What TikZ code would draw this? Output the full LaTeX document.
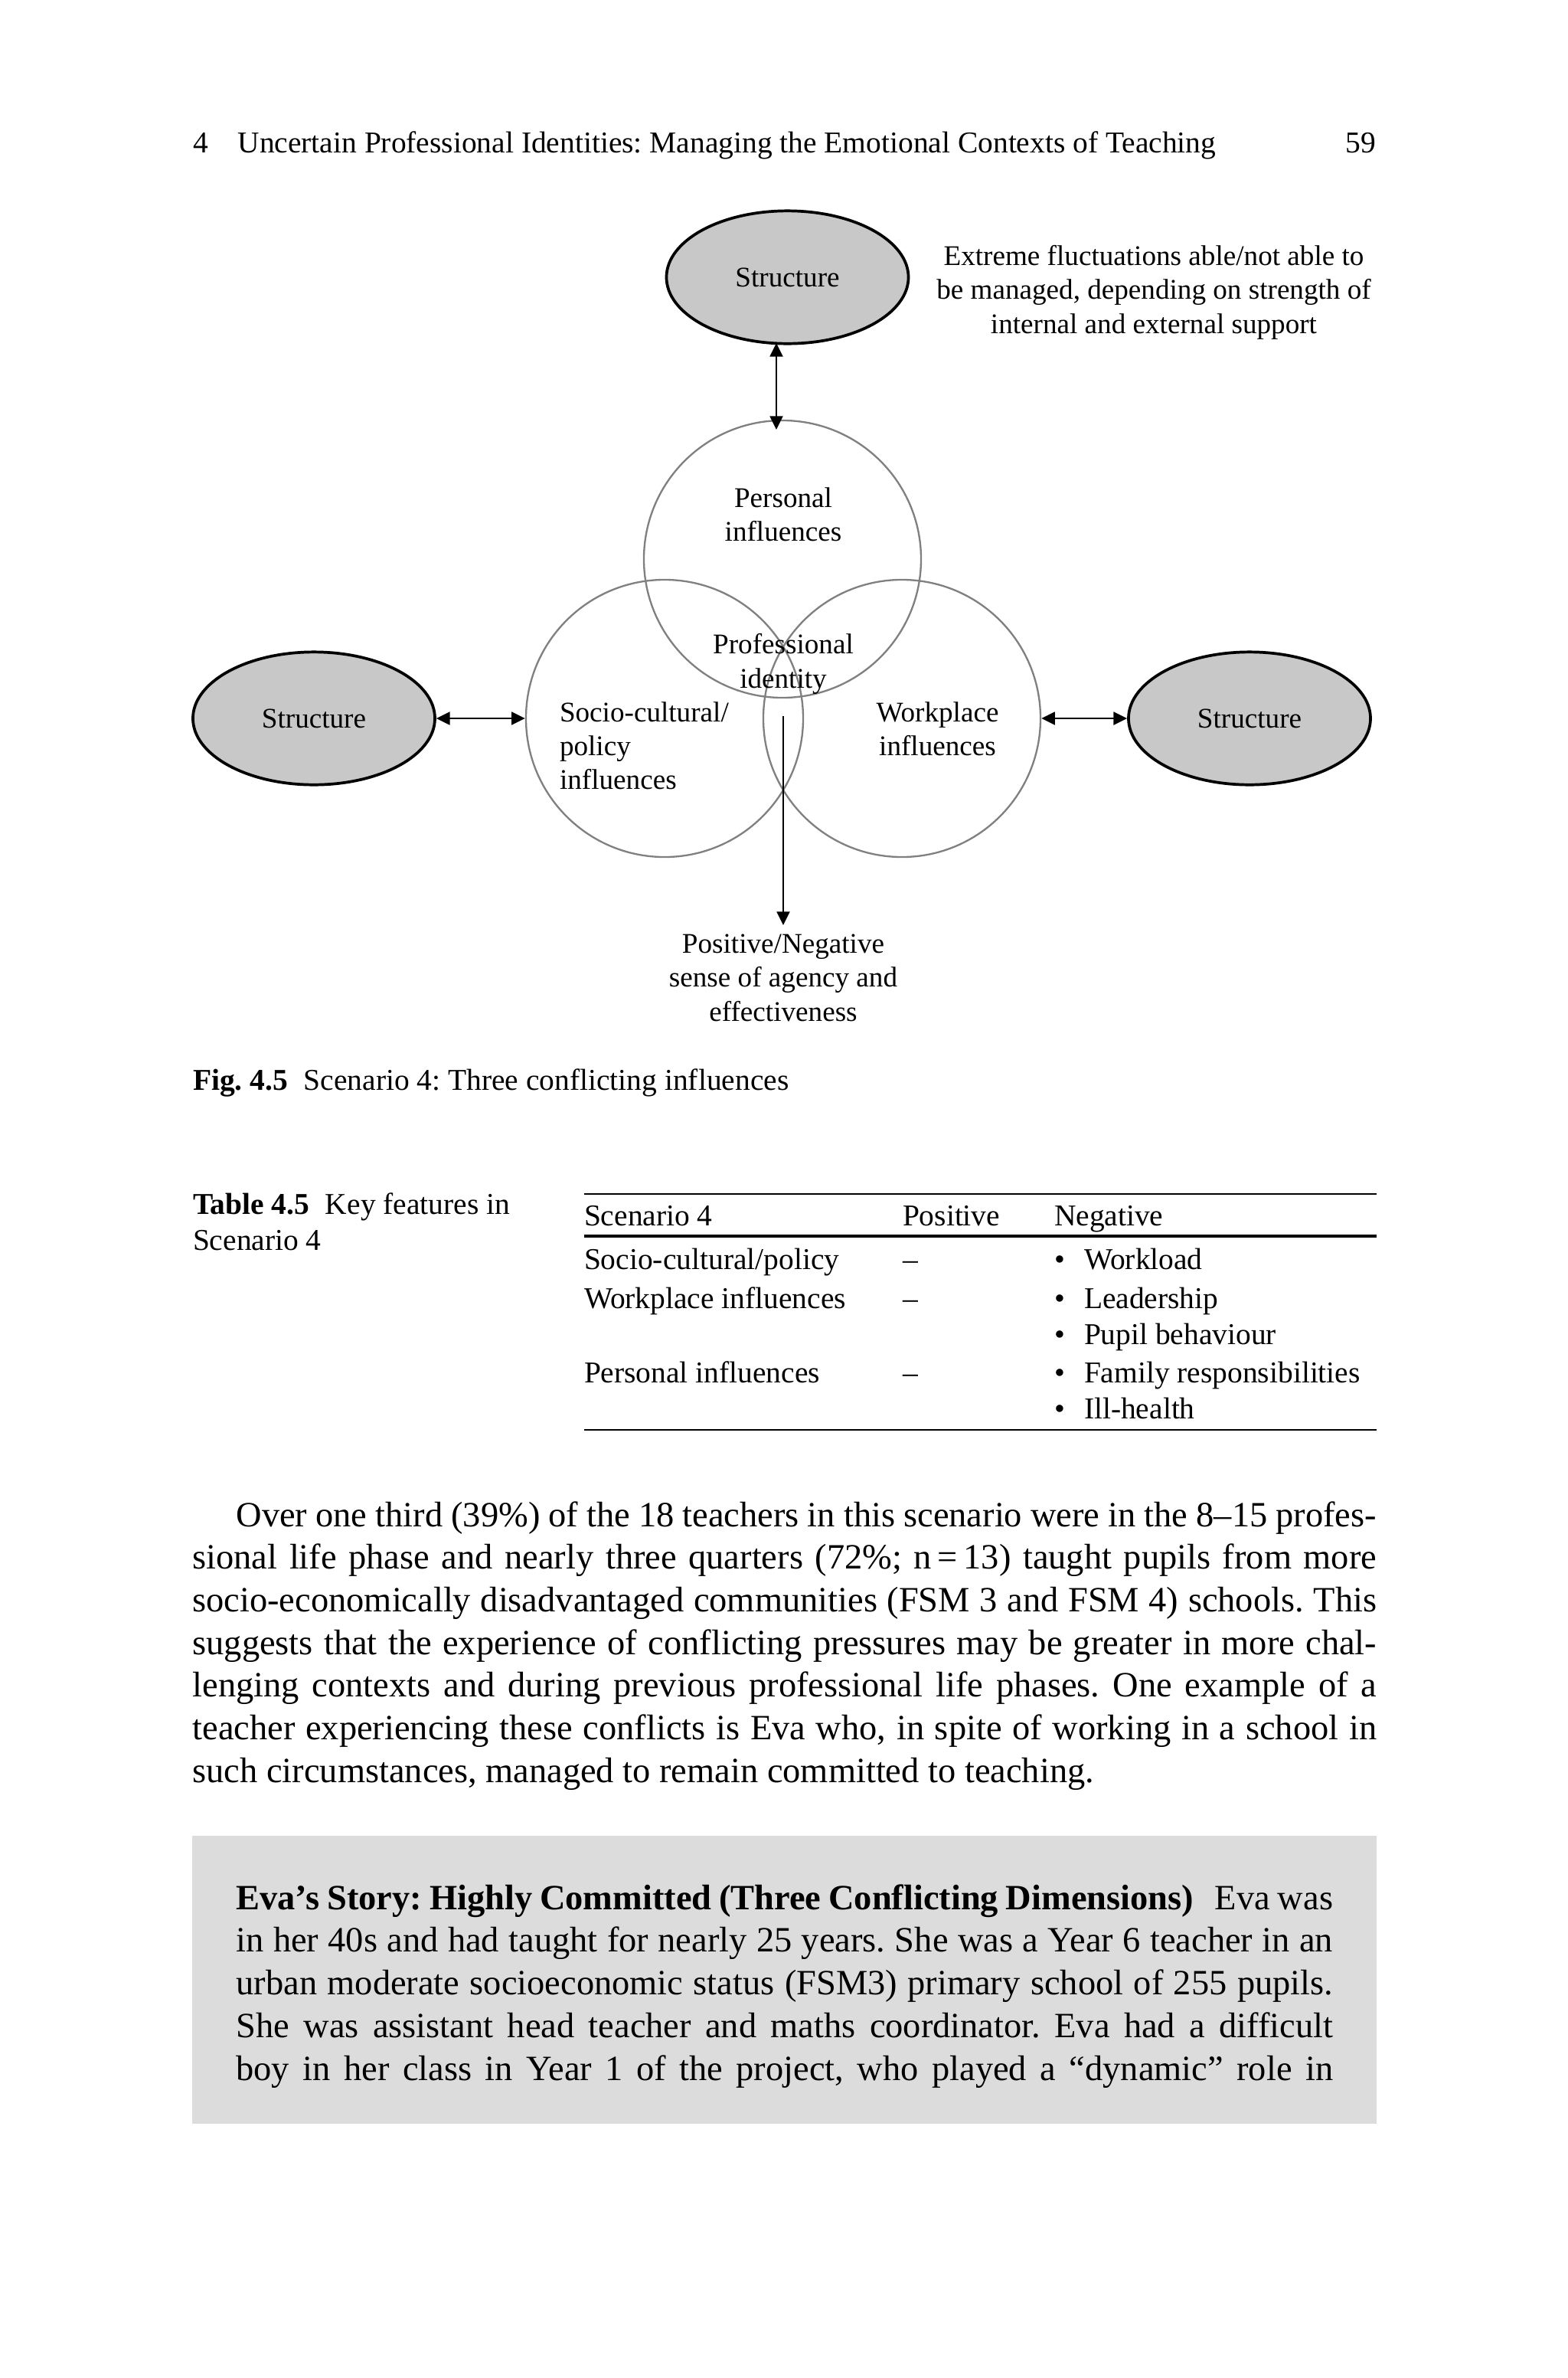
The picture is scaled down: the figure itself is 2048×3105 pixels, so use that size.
\documentclass[tikz,border=0pt]{standalone}
\usepackage{fontspec}
\setmainfont{Liberation Serif}
\usetikzlibrary{shapes.geometric,arrows.meta}
\definecolor{ellgray}{HTML}{C8C8C8}
\definecolor{boxgray}{HTML}{DCDCDC}
\definecolor{circgray}{HTML}{808080}
\newlength\bodyw \setlength\bodyw{117.05mm}
\newlength\firstw \setlength\firstw{112.73mm}
\newlength\evaw \setlength\evaw{108.42mm}
\tikzset{
  x=0.0756836mm, y=-0.0756836mm,
  txt/.style={inner sep=0pt, outer sep=0pt},
  fig/.style={txt, font=\fontsize{8}{9.5}\selectfont},
  small/.style={txt, font=\fontsize{8.5}{10.1}\selectfont\frenchspacing},
  body/.style={txt, font=\fontsize{10}{12}\selectfont\frenchspacing, anchor=base west},
  structure/.style={ellipse, draw=black, line width=0.8pt, fill=ellgray,
     minimum width=23.92mm, minimum height=13.12mm, inner sep=0pt,
     font=\fontsize{8}{9.5}\selectfont},
  infl/.style={circle, draw=circgray, line width=0.5pt, minimum size=27.4mm, inner sep=0pt},
  dbl/.style={line width=0.6pt, {Triangle[length=3.8pt,width=3.6pt]}-{Triangle[length=3.8pt,width=3.6pt]}},
  sgl/.style={line width=0.6pt, -{Triangle[length=3.8pt,width=3.6pt]}},
  rule/.style={line width=#1},
}
\begin{document}
\begin{tikzpicture}
\path[use as bounding box, fill=white] (0,0) rectangle (2048,3105);

% running head
\node[small, anchor=base west] (hnum) at (252,199) {4};
\node[small, anchor=base west] (htitle) at (310.5,199) {Uncertain Professional Identities: Managing the Emotional Contexts of Teaching};
\node[small, anchor=base east] (hpage) at (1797,199) {59};

% figure (multi-line nodes: base anchor = baseline of last line)
\node[structure] (topS) at (1028.5,362) {Structure};
\node[structure] (leftS) at (410,938) {Structure};
\node[structure] (rightS) at (1632,938) {Structure};
\node[fig, anchor=base, align=center] (note) at (1507,435) {Extreme fluctuations able/not able to\\be managed, depending on strength of\\internal and external support};

\node[infl] (pers) at (1022,730) {};
\node[infl] (socio) at (868,938) {};
\node[infl] (work) at (1178,938) {};

\node[fig, anchor=base, align=center] (perslab) at (1023,706.5) {Personal\\influences};
\node[fig, anchor=base, align=center] (pid) at (1023,898) {Professional\\identity};
\node[fig, anchor=base west, align=left] (sociolab) at (731,1030.6) {Socio-cultural/\\policy\\influences};
\node[fig, anchor=base, align=center] (worklab) at (1224.5,986.6) {Workplace\\influences};
\node[fig, anchor=base, align=center] (outcome) at (1023,1333) {Positive/Negative\\sense of agency and\\effectiveness};

\coordinate (ta) at (1014,448);
\coordinate (tb) at (1014,561);
\draw[dbl] (ta) -- (tb);
\draw[dbl] (leftS) -- (socio);
\draw[dbl] (work) -- (rightS);
\coordinate (bs) at (1023,935);
\coordinate (be) at (1023,1208);
\draw[sgl] (bs) -- (be);

% caption
\node[small, anchor=base west] (cap) at (252,1423) {\textbf{Fig. 4.5}\hspace{4.5pt}Scenario 4: Three conflicting influences};

% table
\node[small, anchor=base west, align=left] (tcap) at (252,1632) {\textbf{Table 4.5}\hspace{4.5pt}Key features in\\Scenario 4};
\coordinate (r1a) at (763,1559); \coordinate (r1b) at (1798,1559);
\coordinate (r2a) at (763,1614); \coordinate (r2b) at (1798,1614);
\coordinate (r3a) at (763,1867); \coordinate (r3b) at (1798,1867);
\draw[rule=0.55pt] (r1a) -- (r1b);
\draw[rule=0.95pt] (r2a) -- (r2b);
\draw[rule=0.55pt] (r3a) -- (r3b);
\node[small, anchor=base west] (th1) at (763,1600) {Scenario 4};
\node[small, anchor=base west] (th2) at (1179,1600) {Positive};
\node[small, anchor=base west] (th3) at (1377,1600) {Negative};
\node[small, anchor=base west] (ta1) at (763,1657) {Socio-cultural/policy};
\node[small, anchor=base west] (ta2) at (1179,1657) {--};
\node[small, anchor=base west] (ta3) at (1377,1657) {•};
\node[small, anchor=base west] (ta4) at (1416,1657) {Workload};
\node[small, anchor=base west] (tb1) at (763,1708) {Workplace influences};
\node[small, anchor=base west] (tb2) at (1179,1708) {--};
\node[small, anchor=base west] (tb3) at (1377,1708) {•};
\node[small, anchor=base west] (tb4) at (1416,1708) {Leadership};
\node[small, anchor=base west] (tb5) at (1377,1755) {•};
\node[small, anchor=base west] (tb6) at (1416,1755) {Pupil behaviour};
\node[small, anchor=base west] (tc1) at (763,1805) {Personal influences};
\node[small, anchor=base west] (tc2) at (1179,1805) {--};
\node[small, anchor=base west] (tc3) at (1377,1805) {•};
\node[small, anchor=base west] (tc4) at (1416,1805) {Family responsibilities};
\node[small, anchor=base west] (tc5) at (1377,1852) {•};
\node[small, anchor=base west] (tc6) at (1416,1852) {Ill-health};

% body paragraph
\node[body] (p1) at (308.5,1993) {\makebox[\firstw][s]{Over one third (39\%) of the 18 teachers in this scenario were in the 8--15 profes-}};
\node[body] (p2) at (251.5,2048.7) {\makebox[\bodyw][s]{sional life phase and nearly three quarters (72\%; n\,=\,13) taught pupils from more}};
\node[body] (p3) at (251.5,2104.4) {\makebox[\bodyw][s]{socio-economically disadvantaged communities (FSM 3 and FSM 4) schools. This}};
\node[body] (p4) at (251.5,2160.1) {\makebox[\bodyw][s]{suggests that the experience of conflicting pressures may be greater in more chal-}};
\node[body] (p5) at (251.5,2215.8) {\makebox[\bodyw][s]{lenging contexts and during previous professional life phases. One example of a}};
\node[body] (p6) at (251.5,2271.5) {\makebox[\bodyw][s]{teacher experiencing these conflicts is Eva who, in spite of working in a school in}};
\node[body] (p7) at (251.5,2327.2) {such circumstances, managed to remain committed to teaching.};

% Eva's story box
\node[fill=boxgray, inner sep=0pt, outer sep=0pt, minimum width=117.08mm, minimum height=28.46mm, anchor=north west] (evabox) at (251,2397) {};
\node[body] (e1) at (308.5,2493) {\makebox[\evaw][s]{\textbf{Eva’s Story: Highly Committed (Three Conflicting Dimensions)}\hspace{6pt}Eva was}};
\node[body] (e2) at (308.5,2548.75) {\makebox[\evaw][s]{in her 40s and had taught for nearly 25 years. She was a Year 6 teacher in an}};
\node[body] (e3) at (308.5,2604.5) {\makebox[\evaw][s]{urban moderate socioeconomic status (FSM3) primary school of 255 pupils.}};
\node[body] (e4) at (308.5,2660.25) {\makebox[\evaw][s]{She was assistant head teacher and maths coordinator. Eva had a difficult}};
\node[body] (e5) at (308.5,2716) {\makebox[\evaw][s]{boy in her class in Year 1 of the project, who played a “dynamic” role in}};
\end{tikzpicture}
\end{document}
